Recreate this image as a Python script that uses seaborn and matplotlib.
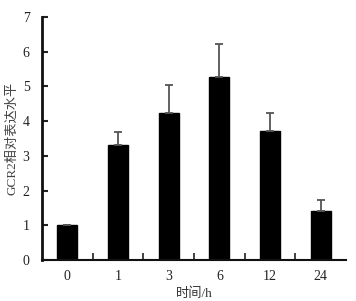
import matplotlib
matplotlib.use("Agg")
import matplotlib.pyplot as plt
import numpy as np
import pandas as pd
import seaborn as sns

# data
times = ["0", "1", "3", "6", "12", "24"]
expr = [1.0, 3.31, 4.24, 5.27, 3.72, 1.41]
err = [0.0, 0.38, 0.80, 0.95, 0.52, 0.32]

sns.set_style("ticks")
plt.rcParams['font.family'] = ['Liberation Serif', 'Noto Sans CJK SC']

df = pd.DataFrame({"time": times, "expr": expr})

fig = plt.figure(figsize=(3.56, 3.01), dpi=100)
ax = fig.add_axes([0.118, 0.136, 0.854, 0.8075])

sns.barplot(data=df, x="time", y="expr", order=times, color="black",
            width=0.39, errorbar=None, saturation=1, ax=ax)
for p in ax.patches:
    p.set_edgecolor("black")

xs = np.arange(len(times))
ax.errorbar(xs, expr, yerr=[np.zeros(len(err)), err], fmt="none",
            ecolor="#555555", elinewidth=1.3, capsize=3, capthick=1.3, zorder=1)

ax.set_ylim(0, 7)
ax.set_xlim(-0.5, len(times) - 0.5)
ax.set_yticks(range(0, 8))

# x ticks sit between categories, labels under the bars
ax.set_xticks(xs)
ax.set_xticklabels(times)
ax.tick_params(axis="x", length=0, pad=7, labelsize=10, labelcolor="#222222")
ax.set_xticks(np.arange(0.5, len(times) - 0.5, 1), minor=True)
ax.tick_params(axis="x", which="minor", direction="in", length=5, width=1.2, color="#222222")
ax.tick_params(axis="y", direction="in", length=4, width=1.5, labelsize=10,
               pad=9, labelcolor="#222222", color="#222222")

for side in ["top", "right"]:
    ax.spines[side].set_visible(False)
ax.spines["left"].set_linewidth(2)
ax.spines["bottom"].set_linewidth(1.5)
ax.spines["left"].set_color("#111111")
ax.spines["bottom"].set_color("#111111")

ax.set_xlabel("时间/h", fontsize=9.5, color="#333333", labelpad=3)
ax.set_ylabel("GCR2相对表达水平", fontsize=9.5, color="#444444", labelpad=3)

fig.savefig("out.png", dpi=100)
